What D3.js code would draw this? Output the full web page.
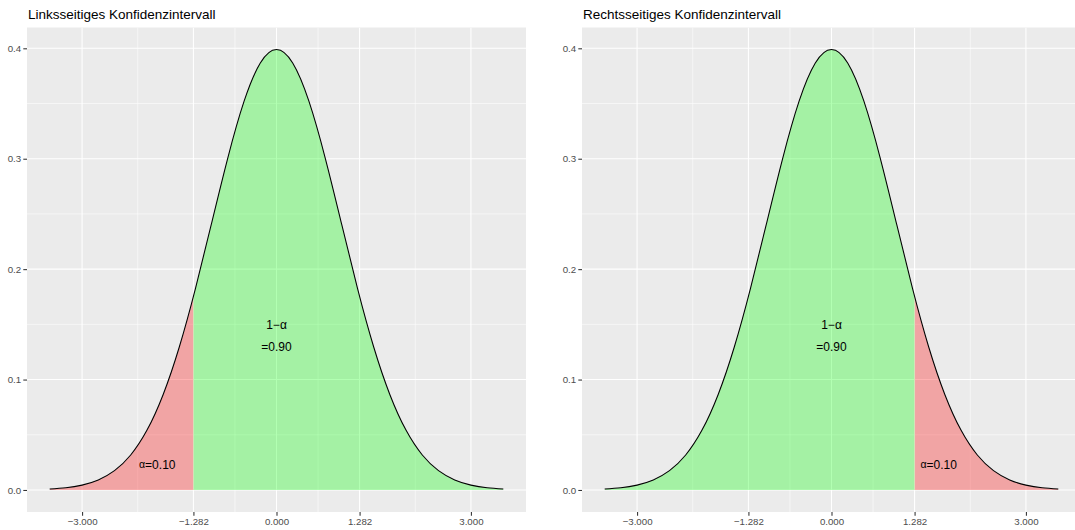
<!DOCTYPE html>
<meta charset="utf-8">
<style>
body { margin: 0; background: #fff; }
text { font-family: "Liberation Sans", Arial, sans-serif; }
.title { font-size: 13.5px; fill: #000; }
.tick-label { font-size: 9.7px; fill: #4d4d4d; }
.annot { font-size: 12px; fill: #000; }
</style>
<body>
<script src="https://cdn.jsdelivr.net/npm/d3@7"></script>
<script>
// standard normal density
var xs   = [-3.5, -3.25, -3, -2.75, -2.5, -2.25, -2, -1.75, -1.5, -1.25, -1, -0.75, -0.5, -0.25,
            0, 0.25, 0.5, 0.75, 1, 1.25, 1.5, 1.75, 2, 2.25, 2.5, 2.75, 3, 3.25, 3.5];
var dens = [0.0009, 0.0020, 0.0044, 0.0091, 0.0175, 0.0317, 0.0540, 0.0863, 0.1295, 0.1826, 0.2420, 0.3011, 0.3521, 0.3867,
            0.3989, 0.3867, 0.3521, 0.3011, 0.2420, 0.1826, 0.1295, 0.0863, 0.0540, 0.0317, 0.0175, 0.0091, 0.0044, 0.0020, 0.0009];

var xBreaks = [-3, -1.282, 0, 1.282, 3];
var xLabels = ["\u22123.000", "\u22121.282", "0.000", "1.282", "3.000"];
var yBreaks = [0, 0.1, 0.2, 0.3, 0.4];
var yLabels = ["0.0", "0.1", "0.2", "0.3", "0.4"];

var titles = ["Linksseitiges Konfidenzintervall", "Rechtsseitiges Konfidenzintervall"];
var redRanges = [[-3.5, -1.282], [1.282, 3.5]];
var greenRanges = [[-1.282, 3.5], [-3.5, 1.282]];
var alphaLabelX = [-1.84, 1.655];
var alphaLabelY = 0.019;
var centerLabels = [{t: "1\u2212", a: "\u03b1", y: 0.15}, {t: "=0.90", a: "", y: 0.13}];

var W = 1075, H = 530;
var panelLefts = [27, 582], panelW = 499, panelTop = 27.5, panelBottom = 512;

var svg = d3.select("body").append("svg")
    .attr("width", W).attr("height", H);

var data = xs.map(function(x, i) { return {x: x, y: dens[i]}; });

function midpoints(arr) {
  var m = [];
  for (var i = 0; i < arr.length - 1; i++) m.push((arr[i] + arr[i + 1]) / 2);
  return m;
}

panelLefts.forEach(function(left, p) {
  var xr = d3.extent(xs), xpad = (xr[1] - xr[0]) * 0.05;
  var ymax = d3.max(dens), ypad = ymax * 0.05;
  var x = d3.scaleLinear().domain([xr[0] - xpad, xr[1] + xpad]).range([left, left + panelW]);
  var y = d3.scaleLinear().domain([-ypad, ymax + ypad]).range([panelBottom, panelTop]);

  var g = svg.append("g");

  svg.append("clipPath").attr("id", "panel" + p)
    .append("rect")
    .attr("x", left).attr("y", panelTop)
    .attr("width", panelW).attr("height", panelBottom - panelTop);

  g.append("rect")
    .attr("x", left).attr("y", panelTop)
    .attr("width", panelW).attr("height", panelBottom - panelTop)
    .attr("fill", "#ebebeb");

  var grid = g.append("g").attr("clip-path", "url(#panel" + p + ")");
  // minor grid
  grid.selectAll(".vminor").data(midpoints(xBreaks)).enter().append("line")
    .attr("x1", function(d) { return x(d); }).attr("x2", function(d) { return x(d); })
    .attr("y1", panelTop).attr("y2", panelBottom)
    .attr("stroke", "#fff").attr("stroke-width", 0.55);
  grid.selectAll(".hminor").data(midpoints(yBreaks)).enter().append("line")
    .attr("y1", function(d) { return y(d); }).attr("y2", function(d) { return y(d); })
    .attr("x1", left).attr("x2", left + panelW)
    .attr("stroke", "#fff").attr("stroke-width", 0.55);
  // major grid
  grid.selectAll(".vmajor").data(xBreaks).enter().append("line")
    .attr("x1", function(d) { return x(d); }).attr("x2", function(d) { return x(d); })
    .attr("y1", panelTop).attr("y2", panelBottom)
    .attr("stroke", "#fff").attr("stroke-width", 1.07);
  grid.selectAll(".hmajor").data(yBreaks).enter().append("line")
    .attr("y1", function(d) { return y(d); }).attr("y2", function(d) { return y(d); })
    .attr("x1", left).attr("x2", left + panelW)
    .attr("stroke", "#fff").attr("stroke-width", 1.07);

  var area = d3.area().curve(d3.curveNatural)
    .x(function(d) { return x(d.x); })
    .y0(y(0))
    .y1(function(d) { return y(d.y); });
  var line = d3.line().curve(d3.curveNatural)
    .x(function(d) { return x(d.x); })
    .y(function(d) { return y(d.y); });

  [[redRanges[p], "#ff0000", "red"], [greenRanges[p], "#00ff00", "green"]].forEach(function(r) {
    var id = r[2] + p;
    svg.append("clipPath").attr("id", id)
      .append("rect")
      .attr("x", x(r[0][0])).attr("y", panelTop)
      .attr("width", x(r[0][1]) - x(r[0][0])).attr("height", panelBottom - panelTop);
    g.append("path").datum(data)
      .attr("clip-path", "url(#" + id + ")")
      .attr("d", area)
      .attr("fill", r[1]).attr("fill-opacity", 0.3);
  });

  g.append("path").datum(data)
    .attr("d", line)
    .attr("fill", "none").attr("stroke", "#000").attr("stroke-width", 1.07);

  // annotations
  centerLabels.forEach(function(c) {
    var t = g.append("text").attr("class", "annot")
      .attr("x", x(0)).attr("y", y(c.y)).attr("dy", "0.35em")
      .attr("text-anchor", "middle");
    t.append("tspan").text(c.t);
    if (c.a) t.append("tspan").text(c.a);
  });
  var at = g.append("text").attr("class", "annot")
    .attr("x", x(alphaLabelX[p])).attr("y", y(alphaLabelY)).attr("dy", "0.35em")
    .attr("text-anchor", "middle");
  at.append("tspan").text("\u03b1").attr("font-size", "10.5px").attr("dy", "-0.1em");
  at.append("tspan").text("=0.10").attr("dy", "0.1em");

  // axes
  var xAxis = d3.axisBottom(x).tickValues(xBreaks)
    .tickFormat(function(d, i) { return xLabels[i]; })
    .tickSize(3.7).tickPadding(2.2);
  var ax = g.append("g").attr("transform", "translate(0," + panelBottom + ")").call(xAxis);
  var yAxis = d3.axisLeft(y).tickValues(yBreaks)
    .tickFormat(function(d, i) { return yLabels[i]; })
    .tickSize(3.7).tickPadding(2.2);
  var ay = g.append("g").attr("transform", "translate(" + left + ",0)").call(yAxis);
  [ax, ay].forEach(function(a) {
    a.select(".domain").remove();
    a.selectAll(".tick line").attr("stroke", "#333333").attr("stroke-width", 1.07);
    a.selectAll(".tick text").attr("class", "tick-label").attr("font-family", null).attr("font-size", null).attr("fill", null);
  });

  svg.append("text").attr("class", "title")
    .attr("x", left + 1).attr("y", 19)
    .text(titles[p]);
});
</script>
</body>
